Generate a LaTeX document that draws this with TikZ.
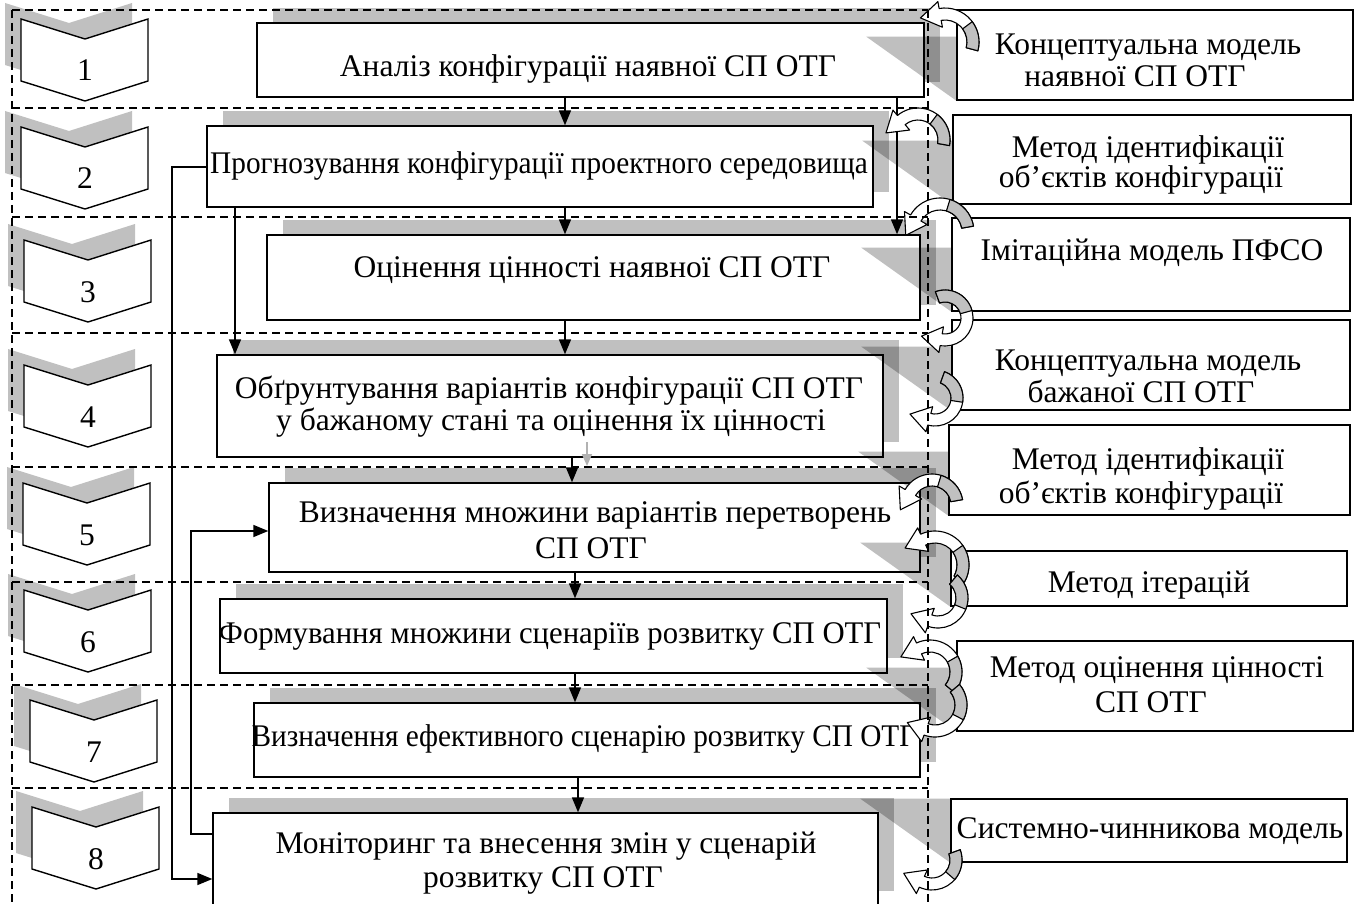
\documentclass[tikz,border=0pt]{standalone}
\usepackage{fontspec}
\usepackage{graphicx}
\setmainfont{Liberation Serif}
\usetikzlibrary{calc,arrows.meta}
\definecolor{shgray}{RGB}{192,192,192}
\newcommand{\fsz}{\fontsize{31.5}{36}\selectfont}
\tikzset{
  mainbox/.style={draw, line width=1.4pt, fill=white, inner sep=0pt},
  sidebox/.style={draw, line width=1.4pt, fill=white, inner sep=0pt},
  txt/.style={font=\fsz, inner sep=0pt, anchor=base},
  shad/.style={fill=shgray},
  tri/.style={fill=black, opacity=0.25},
  guide/.style={dash pattern=on 8pt off 5pt, line width=1.1pt},
  flow/.style={line width=1.6pt, -{Triangle[length=15pt,width=12pt]}},
  ghostflow/.style={line width=1.5pt, draw=black!30, -{Triangle[length=12pt,width=10pt]}},
  carr/.style={fill=white, draw, line width=1.1pt, line join=round},
  carrg/.style={fill=shgray, draw, line width=1.1pt, line join=round},
  chevst/.style={fill=white, draw, line width=1.4pt}
}
% main box with its shadow: name, x1, y1, x2, y2
\newcommand{\mainbx}[5]{%
  \fill[shad] ({#2+16},{#3-15}) rectangle ({#4+16},{#5-15});
  \node[mainbox, minimum width={#4-#2}, minimum height={#5-#3}] (#1) at ({(#2+#4)/2},{(#3+#5)/2}) {};}
\newcommand{\sidebx}[5]{%
  \node[sidebox, minimum width={#4-#2}, minimum height={#5-#3}] (#1) at ({(#2+#4)/2},{(#3+#5)/2}) {};}
% chevron: name, x0, y0, label
\newcommand{\chev}[4]{%
  \fill[shad] ({#2-16},{#3-16}) -- ++(64,20) -- ++(63,-20) -- ++(0,62) -- ++(-63,20) -- ++(-64,-20) -- cycle;
  \draw[chevst] (#2,#3) -- ++(64,20) -- ++(63,-20) -- ++(0,62) -- ++(-63,20) -- ++(-64,-20) -- cycle;
  \node[txt] (#1) at ({#2+64},{#3+62}) {#4};}
% curved block arrow: cx, cy, r, a1, a2, sign
\newcommand{\carrow}[6]{%
  \pgfmathsetmacro{\cArI}{#3-6}%
  \pgfmathsetmacro{\cArO}{#3+6}%
  \pgfmathsetmacro{\cArHI}{#3-13}%
  \pgfmathsetmacro{\cArHO}{#3+13}%
  \pgfmathsetmacro{\cArTD}{#5+#6*90}%
  \pgfmathsetmacro{\cArM}{#4+0.45*(#5-#4)}%
  \filldraw[carr] ($(#1,#2)+(#4:\cArI)$) arc[start angle=#4,end angle=#5,radius=\cArI]
     -- ($(#1,#2)+(#5:\cArHI)$) -- ($(#1,#2)+(#5:#3)+(\cArTD:20)$) -- ($(#1,#2)+(#5:\cArHO)$)
     -- ($(#1,#2)+(#5:\cArO)$) arc[start angle=#5,end angle=#4,radius=\cArO] -- cycle;
  \filldraw[carrg] ($(#1,#2)+(#4:\cArI)$) arc[start angle=#4,end angle=\cArM,radius=\cArI]
     -- ($(#1,#2)+(\cArM:\cArO)$) arc[start angle=\cArM,end angle=#4,radius=\cArO] -- cycle;}
\begin{document}
\begin{tikzpicture}[x=1pt,y=-1pt]
\useasboundingbox[fill=white] (0,0) rectangle (1362,904);
% chevrons
\chev{n1}{21}{19}{1}
\chev{n2}{21}{127}{2}
\chev{n3}{24}{240}{3}
\chev{n4}{24}{365}{4}
\chev{n5}{23}{483}{5}
\chev{n6}{24}{590}{6}
\chev{n7}{30}{700}{7}
\chev{n8}{32}{807}{8}
% main boxes
\mainbx{b1}{257}{23}{924}{97}
\mainbx{b2}{207}{126}{873}{207}
\mainbx{b3}{267}{235}{920}{320}
\mainbx{b4}{217}{355}{883}{457}
\mainbx{b5}{269}{483}{920}{572}
\mainbx{b6}{220}{599}{887}{673}
\mainbx{b7}{254}{703}{920}{777}
\mainbx{b8}{213}{813}{878}{906}
% side boxes
\sidebx{R1}{957}{10}{1353}{100}
\sidebx{R2}{953}{115}{1351}{204}
\sidebx{R3}{952}{218}{1350}{311}
\sidebx{R4}{952}{320}{1350}{410}
\sidebx{R5}{949}{425}{1350}{515}
\sidebx{R6}{951}{551}{1347}{606}
\sidebx{R7}{957}{641}{1353}{731}
\sidebx{R8}{951}{799}{1347}{862}
% perspective shadows of the side boxes
\foreach \rb in {R1,R2,R3,R4,R5,R6,R7,R8}{
  \fill[tri] ($(\rb.south west)+(-90,-64)$) -- ($(\rb.south west)+(0,-64)$) -- (\rb.south west) -- cycle;
}
% texts
\node[txt] (t1) at (588,77) {Аналіз конфігурації наявної СП ОТГ};
\node[txt] (t2) at (539,174) {\scalebox{0.93}[1]{Прогнозування конфігурації проектного середовища}};
\node[txt] (t3) at (592,277) {Оцінення цінності наявної СП ОТГ};
\node[txt] (t4a) at (549,398) {Обґрунтування варіантів конфігурації СП ОТГ};
\node[txt] (t4b) at (551,430) {у бажаному стані та оцінення їх цінності};
\node[txt] (t5a) at (595,522) {Визначення множини варіантів перетворень};
\node[txt] (t5b) at (591,558) {СП ОТГ};
\node[txt] (t6) at (550,643) {\scalebox{0.975}[1]{Формування множини сценаріїв розвитку СП ОТГ}};
\node[txt] (t7) at (584,746) {\scalebox{0.93}[1]{Визначення ефективного сценарію розвитку СП ОТГ}};
\node[txt] (t8a) at (546,853) {Моніторинг та внесення змін у сценарій};
\node[txt] (t8b) at (543,887) {розвитку СП ОТГ};
\node[txt] (r1a) at (1148,55) {Концептуальна модель};
\node[txt] (r1b) at (1135,87) {наявної СП ОТГ};
\node[txt] (r2a) at (1148,158) {Метод ідентифікації};
\node[txt] (r2b) at (1141,188) {об’єктів конфігурації};
\node[txt] (r3a) at (1152,260) {Імітаційна модель ПФСО};
\node[txt] (r4a) at (1148,370) {Концептуальна модель};
\node[txt] (r4b) at (1141,402) {бажаної СП ОТГ};
\node[txt] (r5a) at (1148,469) {Метод ідентифікації};
\node[txt] (r5b) at (1141,503) {об’єктів конфігурації};
\node[txt] (r6a) at (1149,592) {Метод ітерацій};
\node[txt] (r7a) at (1157,677) {Метод оцінення цінності};
\node[txt] (r7b) at (1151,712) {СП ОТГ};
\node[txt] (r8a) at (1150,838) {Системно-чинникова модель};
% straight connectors
\draw[flow] (565,0 |- b1.south) -- (565,0 |- b2.north);
\draw[flow] (565,0 |- b2.south) -- (565,0 |- b3.north);
\draw[flow] (565,0 |- b3.south) -- (565,0 |- b4.north);
\draw[flow] (572,0 |- b4.south) -- (572,0 |- b5.north);
\draw[ghostflow] (587,442) -- (587,466);
\draw[flow] (575,0 |- b5.south) -- (575,0 |- b6.north);
\draw[flow] (575,0 |- b6.south) -- (575,0 |- b7.north);
\draw[flow] (578,0 |- b7.south) -- (578,0 |- b8.north);
\draw[flow] (897,0 |- b1.south) -- (897,0 |- b3.north);
\draw[flow] (235,0 |- b2.south) -- (235,0 |- b4.north);
\draw[flow] (b2.west |- 0,167) -| (172,879) -- (b8.west |- 0,879);
\draw[flow] (b8.west |- 0,834) -| (191,531) -- (b5.west |- 0,531);
% curved block arrows
\carrow{945}{42}{28}{15}{-100}{-1}
\carrow{918}{140}{26}{10}{-130}{-1}
\carrow{940}{232}{28}{-10}{-150}{-1}
\carrow{945}{318}{22}{-110}{100}{1}
\carrow{935}{398}{22}{-70}{105}{1}
\carrow{932}{505}{25}{-10}{-150}{-1}
\carrow{935}{565}{28}{30}{-115}{-1}
\carrow{938}{598}{24}{-50}{110}{1}
\carrow{930}{672}{26}{40}{-115}{-1}
\carrow{935}{705}{26}{-40}{110}{1}
\carrow{932}{860}{24}{-20}{115}{1}
% dashed stage frame
\foreach \yy in {10,108,217,333,467,582,685,788}{\draw[guide] (12,\yy) -- (928,\yy);}
\draw[guide] (12,10) -- (12,904);
\draw[guide] (928,10) -- (928,904);
\end{tikzpicture}
\end{document}
